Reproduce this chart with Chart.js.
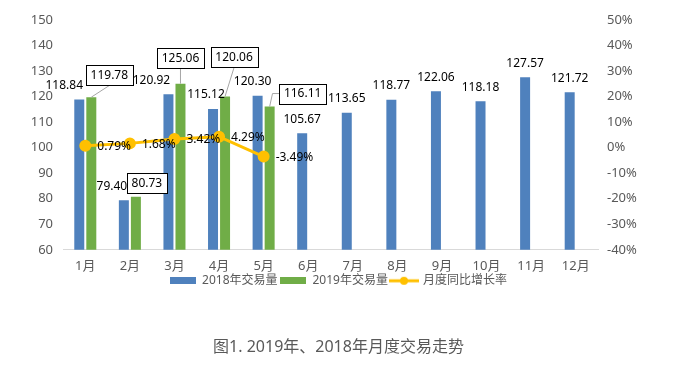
<!DOCTYPE html>
<html>
<head>
<meta charset="utf-8">
<script src="https://cdn.jsdelivr.net/npm/chart.js@4.4.0/dist/chart.umd.min.js"></script>
<style>
  html, body { margin: 0; padding: 0; background: #fff; }
  #wrap { width: 677px; height: 365px; }
</style>
</head>
<body>
<div id="wrap"><canvas id="chart" width="677" height="365"></canvas></div>
<script>
// Data
const months = ['1月', '2月', '3月', '4月', '5月', '6月', '7月', '8月', '9月', '10月', '11月', '12月'];
const volume2018 = [118.84, 79.40, 120.92, 115.12, 120.30, 105.67, 113.65, 118.77, 122.06, 118.18, 127.57, 121.72];
const volume2019 = [119.78, 80.73, 125.06, 120.06, 116.11, null, null, null, null, null, null, null];
const yoyGrowth = [0.79, 1.68, 3.42, 4.29, -3.49, null, null, null, null, null, null, null];
const volumeTicks = [60, 70, 80, 90, 100, 110, 120, 130, 140, 150];
const growthTicks = [-40, -30, -20, -10, 0, 10, 20, 30, 40, 50];

const FONT = '"Noto Sans", "Noto Sans CJK SC", sans-serif';
const BLUE = '#4F81BD';
const GREEN = '#70AD47';
const GOLD = '#FFC000';
const GREY = '#595959';

// hand placed label nudges (as in the original sheet)
const barLabelShift = [-15, -12, -17, -7, -5, 0, 0, 0, 0, 0, 0, 0];
const boxOffsets = [[18, -22], [11, -14], [0, -26], [9, -39], [33, -13]];

function makeSwatch(kind, color) {
  const c = document.createElement('canvas');
  const g = c.getContext('2d');
  if (kind === 'box') {
    c.width = 26; c.height = 7;
    g.fillStyle = color;
    g.fillRect(0, 0, 26, 7);
  } else {
    c.width = 30; c.height = 10;
    g.strokeStyle = color;
    g.lineWidth = 3;
    g.beginPath(); g.moveTo(0, 5); g.lineTo(30, 5); g.stroke();
    g.fillStyle = color;
    g.beginPath(); g.arc(15, 5, 4, 0, Math.PI * 2); g.fill();
  }
  return c;
}

// Data labels
const labelPlugin = {
  id: 'valueLabels',
  afterDatasetsDraw(chart) {
    const ctx = chart.ctx;
    ctx.save();
    ctx.font = '12px ' + FONT;
    ctx.fillStyle = '#000';
    ctx.textBaseline = 'middle';

    // 2018 values above bars
    ctx.textAlign = 'center';
    chart.getDatasetMeta(0).data.forEach((bar, i) => {
      ctx.fillText(volume2018[i].toFixed(2), bar.x + barLabelShift[i], bar.y - 14);
    });

    // 2019 values in boxes, with leader lines
    chart.getDatasetMeta(1).data.forEach((bar, i) => {
      if (volume2019[i] == null) return;
      const txt = volume2019[i].toFixed(2);
      const w = Math.round(ctx.measureText(txt).width + 9);
      const h = 20;
      const off = boxOffsets[i] || [0, -24];
      const cx = bar.x + off[0];
      const cy = bar.y + off[1];
      const left = Math.round(cx - w / 2) + 0.5;
      const top = Math.round(cy - h / 2) + 0.5;

      ctx.strokeStyle = '#A6A6A6';
      ctx.lineWidth = 1;
      ctx.beginPath();
      if (Math.abs(off[0]) > w / 2 && Math.abs(off[1]) < h) {
        ctx.moveTo(left, cy);
        ctx.lineTo(left - 7, cy);
        ctx.lineTo(bar.x, bar.y);
      } else {
        const sx = cx, sy = top + h;
        if (Math.hypot(sx - bar.x, sy - bar.y) > 12) {
          ctx.moveTo(sx, sy);
          ctx.lineTo(bar.x, bar.y);
        }
      }
      ctx.stroke();

      ctx.fillStyle = '#fff';
      ctx.fillRect(left, top, w, h);
      ctx.strokeStyle = '#000';
      ctx.strokeRect(left, top, w, h);
      ctx.fillStyle = '#000';
      ctx.fillText(txt, cx, cy + 0.5);
    });

    // growth rate labels
    ctx.textAlign = 'left';
    chart.getDatasetMeta(2).data.forEach((pt, i) => {
      if (yoyGrowth[i] == null) return;
      ctx.fillText(yoyGrowth[i].toFixed(2) + '%', pt.x + 12, pt.y + 1);
    });
    ctx.restore();
  }
};

const ctx = document.getElementById('chart').getContext('2d');
new Chart(ctx, {
  type: 'bar',
  data: {
    labels: months,
    datasets: [
      {
        label: '2018年交易量',
        data: volume2018,
        backgroundColor: BLUE,
        yAxisID: 'y',
        categoryPercentage: 0.54,
        barPercentage: 0.83,
        order: 1
      },
      {
        label: '2019年交易量',
        data: volume2019,
        backgroundColor: GREEN,
        yAxisID: 'y',
        categoryPercentage: 0.54,
        barPercentage: 0.83,
        order: 1
      },
      {
        type: 'line',
        label: '月度同比增长率',
        data: yoyGrowth,
        borderColor: GOLD,
        backgroundColor: GOLD,
        borderWidth: 3,
        pointRadius: 4.5,
        pointBackgroundColor: GOLD,
        pointBorderColor: GOLD,
        tension: 0,
        yAxisID: 'y1',
        order: 0
      }
    ]
  },
  options: {
    responsive: false,
    animation: false,
    devicePixelRatio: 1,
    layout: { padding: { top: 20, left: 0, right: 0, bottom: 0 } },
    scales: {
      x: {
        grid: { display: false, drawTicks: false },
        border: { display: true, color: '#D9D9D9', width: 1 },
        ticks: { color: GREY, font: { family: FONT, size: 13 }, padding: 9, maxRotation: 0 },
        afterFit(scale) { scale.height = 22; }
      },
      y: {
        position: 'left',
        min: volumeTicks[0],
        max: volumeTicks[volumeTicks.length - 1],
        grid: { display: false, drawTicks: false },
        border: { display: false },
        ticks: { stepSize: 10, color: GREY, font: { family: FONT, size: 13 }, padding: 10 },
        afterFit(scale) { scale.width = 63; }
      },
      y1: {
        position: 'right',
        min: growthTicks[0],
        max: growthTicks[growthTicks.length - 1],
        grid: { display: false, drawTicks: false },
        border: { display: false },
        ticks: {
          stepSize: 10,
          color: GREY,
          font: { family: FONT, size: 13 },
          padding: 9,
          callback: v => v + '%'
        },
        afterFit(scale) { scale.width = 79; }
      }
    },
    plugins: {
      tooltip: { enabled: false },
      legend: {
        position: 'bottom',
        labels: {
          usePointStyle: true,
          pointStyleWidth: 26,
          padding: 3,
          color: GREY,
          font: { family: FONT, size: 12 },
          generateLabels(chart) {
            return chart.data.datasets.map((ds, i) => ({
              text: ds.label,
              fillStyle: ds.backgroundColor,
              strokeStyle: ds.backgroundColor,
              lineWidth: 0,
              fontColor: GREY,
              pointStyle: makeSwatch(ds.type === 'line' ? 'line' : 'box', ds.backgroundColor),
              hidden: false,
              datasetIndex: i
            }));
          }
        }
      },
      title: {
        display: true,
        position: 'bottom',
        text: '图1. 2019年、2018年月度交易走势',
        color: GREY,
        font: { family: FONT, size: 16, weight: 'normal' },
        padding: { top: 41, bottom: 8 }
      }
    }
  },
  plugins: [labelPlugin]
});
</script>
</body>
</html>
